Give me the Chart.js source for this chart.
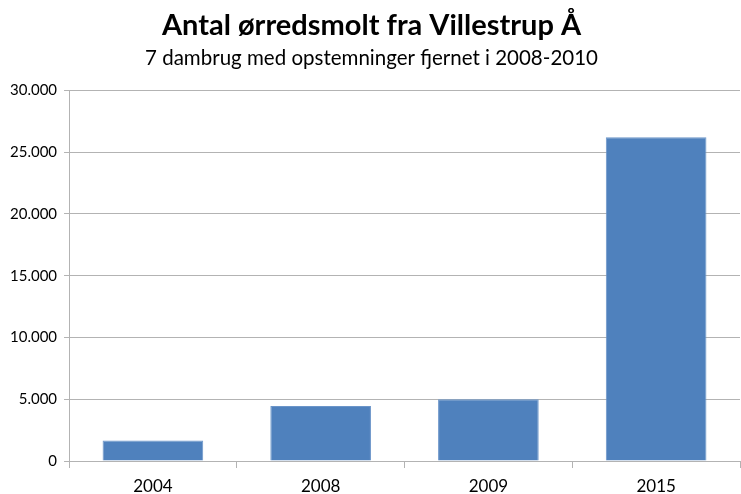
<!DOCTYPE html>
<html>
<head>
<meta charset="utf-8">
<script src="https://cdn.jsdelivr.net/npm/chart.js@4/dist/chart.umd.min.js"></script>
<style>
  html, body { margin: 0; padding: 0; background: #fff; }
  #wrap { width: 741px; height: 494px; }
</style>
</head>
<body>
<div id="wrap"><canvas id="smoltChart"></canvas></div>
<script>
const years = ["2004", "2008", "2009", "2015"];
const smolt = [1650, 4450, 5000, 26200];

const titleText = "Antal ørredsmolt fra Villestrup Å";
const subtitleText = "7 dambrug med opstemninger fjernet i 2008-2010";

function dkNumber(v) {
    return String(v).replace(/\B(?=(\d{3})+(?!\d))/g, ".");
}

const ctx = document.getElementById("smoltChart").getContext("2d");

new Chart(ctx, {
    type: "bar",
    data: {
        labels: years,
        datasets: [{
            label: "Smolt",
            data: smolt,
            backgroundColor: "#4f81bd",
            borderColor: "#6b95c9",
            borderWidth: 1,
            categoryPercentage: 0.6,
            barPercentage: 1
        }]
    },
    options: {
        responsive: true,
        maintainAspectRatio: false,
        animation: false,
        layout: { padding: { left: 3, right: 1, top: 0, bottom: 0 } },
        plugins: {
            legend: { display: false },
            tooltip: { enabled: false },
            title: {
                display: true,
                text: titleText,
                color: "#000",
                font: { family: "Lato", size: 29, weight: "bold" },
                padding: { top: 8, bottom: 1 }
            },
            subtitle: {
                display: true,
                text: subtitleText,
                color: "#000",
                font: { family: "Lato", size: 20.5 },
                padding: { top: 2, bottom: 20 }
            }
        },
        scales: {
            x: {
                afterFit: scale => { scale.height = 33; },
                grid: {
                    drawOnChartArea: false,
                    drawTicks: true,
                    tickLength: 7,
                    color: "#b3b3b3"
                },
                border: { color: "#b3b3b3" },
                ticks: {
                    color: "#000",
                    font: { family: "Lato", size: 17, lineHeight: 1 },
                    padding: 10
                }
            },
            y: {
                min: 0,
                max: 30000,
                grid: {
                    color: "#b3b3b3",
                    tickLength: 5
                },
                border: { color: "#b3b3b3" },
                ticks: {
                    stepSize: 5000,
                    color: "#000",
                    font: { family: "Lato", size: 15 },
                    padding: 7,
                    callback: v => dkNumber(v)
                }
            }
        }
    }
});
</script>
</body>
</html>
